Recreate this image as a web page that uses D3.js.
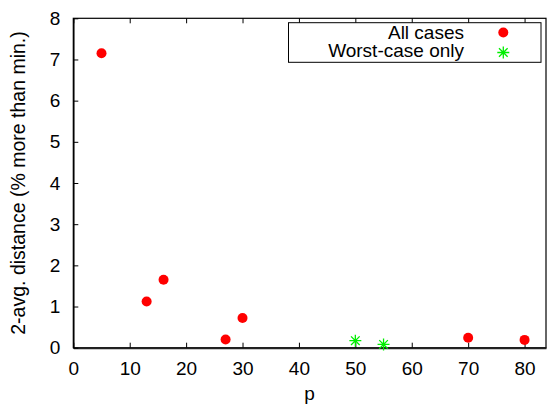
<!DOCTYPE html>
<html>
<head>
<meta charset="utf-8">
<script src="https://cdn.jsdelivr.net/npm/d3@7"></script>
<style>
  body { margin: 0; background: #fff; }
  svg text { font-family: "Liberation Sans", Arial, sans-serif; fill: #000; }
</style>
</head>
<body>
<svg id="chart" width="547" height="408"></svg>
<script>
// values
const allP = [5, 13, 16, 27, 30, 70, 80];
const allDist = [7.15, 1.12, 1.65, 0.2, 0.72, 0.24, 0.19];
const worstP = [50, 55];
const worstDist = [0.17, 0.08];
const xTicks = [0, 10, 20, 30, 40, 50, 60, 70, 80];
const yTicks = [0, 1, 2, 3, 4, 5, 6, 7, 8];
const legendLabels = ["All cases", "Worst-case only"];

const svg = d3.select("#chart");
const mLeft = 73.3, mRight = 546, mTop = 18.3, mBottom = 347.7;
const fs = "19px";

const x = d3.scaleLinear().domain([0, 83.8]).range([mLeft, mRight]);
const y = d3.scaleLinear().domain([0, 8]).range([mBottom, mTop]);

// frame
svg.append("rect")
    .attr("x", mLeft).attr("y", mTop)
    .attr("width", mRight - mLeft).attr("height", mBottom - mTop)
    .attr("fill", "none").attr("stroke", "#000").attr("stroke-width", 1.2);

// bottom axis, ticks pointing inward
const xAxis = svg.append("g")
    .attr("transform", "translate(0," + mBottom + ")")
    .call(d3.axisBottom(x).tickValues(xTicks).tickSizeInner(-5).tickSizeOuter(0).tickPadding(14));
xAxis.select(".domain").attr("stroke-width", 2).attr("stroke", "#222");
xAxis.selectAll("text").style("font-size", fs);

// top mirror ticks
svg.append("g")
    .attr("transform", "translate(0," + mTop + ")")
    .call(d3.axisTop(x).tickValues(xTicks).tickSizeInner(-5).tickSizeOuter(0).tickFormat(""))
    .select(".domain").remove();

// left axis
const yAxis = svg.append("g")
    .attr("transform", "translate(" + mLeft + ",0)")
    .call(d3.axisLeft(y).tickValues(yTicks).tickSizeInner(-5).tickSizeOuter(0).tickPadding(13));
yAxis.select(".domain").attr("stroke-width", 1.5);
yAxis.selectAll("text").style("font-size", fs);

// axis titles
svg.append("text")
    .attr("x", (mLeft + mRight) / 2).attr("y", 400)
    .attr("text-anchor", "middle").style("font-size", fs)
    .text("p");
svg.append("text")
    .attr("transform", "translate(25," + (mTop + mBottom) / 2 + ") rotate(-90)")
    .attr("text-anchor", "middle").style("font-size", "19.5px")
    .text("2-avg. distance (% more than min.)");

// points
svg.append("g").selectAll("circle")
    .data(allP.map((p, i) => [p, allDist[i]]))
    .join("circle")
    .attr("cx", d => x(d[0])).attr("cy", d => y(d[1]))
    .attr("r", 5).attr("fill", "#ff0000");

function star(g, cx, cy, s) {
    const path = d3.path();
    path.moveTo(cx - s, cy); path.lineTo(cx + s, cy);
    path.moveTo(cx, cy - s); path.lineTo(cx, cy + s);
    const d = s * 0.72;
    path.moveTo(cx - d, cy - d); path.lineTo(cx + d, cy + d);
    path.moveTo(cx - d, cy + d); path.lineTo(cx + d, cy - d);
    g.append("path").attr("d", path.toString())
        .attr("stroke", "#00ee00").attr("stroke-width", 1.3).attr("fill", "none");
}
const starG = svg.append("g");
worstP.forEach((p, i) => star(starG, x(p), y(worstDist[i]), 6));

// legend
const lg = svg.append("g");
lg.append("rect")
    .attr("x", 288.5).attr("y", 22.7).attr("width", 252.5).attr("height", 39.6)
    .attr("fill", "#fff").attr("stroke", "#000").attr("stroke-width", 1);
legendLabels.forEach((t, i) => {
    lg.append("text")
        .attr("x", 464).attr("y", 39 + i * 18)
        .attr("text-anchor", "end").style("font-size", fs)
        .text(t);
});
lg.append("circle").attr("cx", 503.3).attr("cy", 32.5).attr("r", 5).attr("fill", "#ff0000");
star(lg, 503.3, 52.5, 6);
</script>
</body>
</html>
